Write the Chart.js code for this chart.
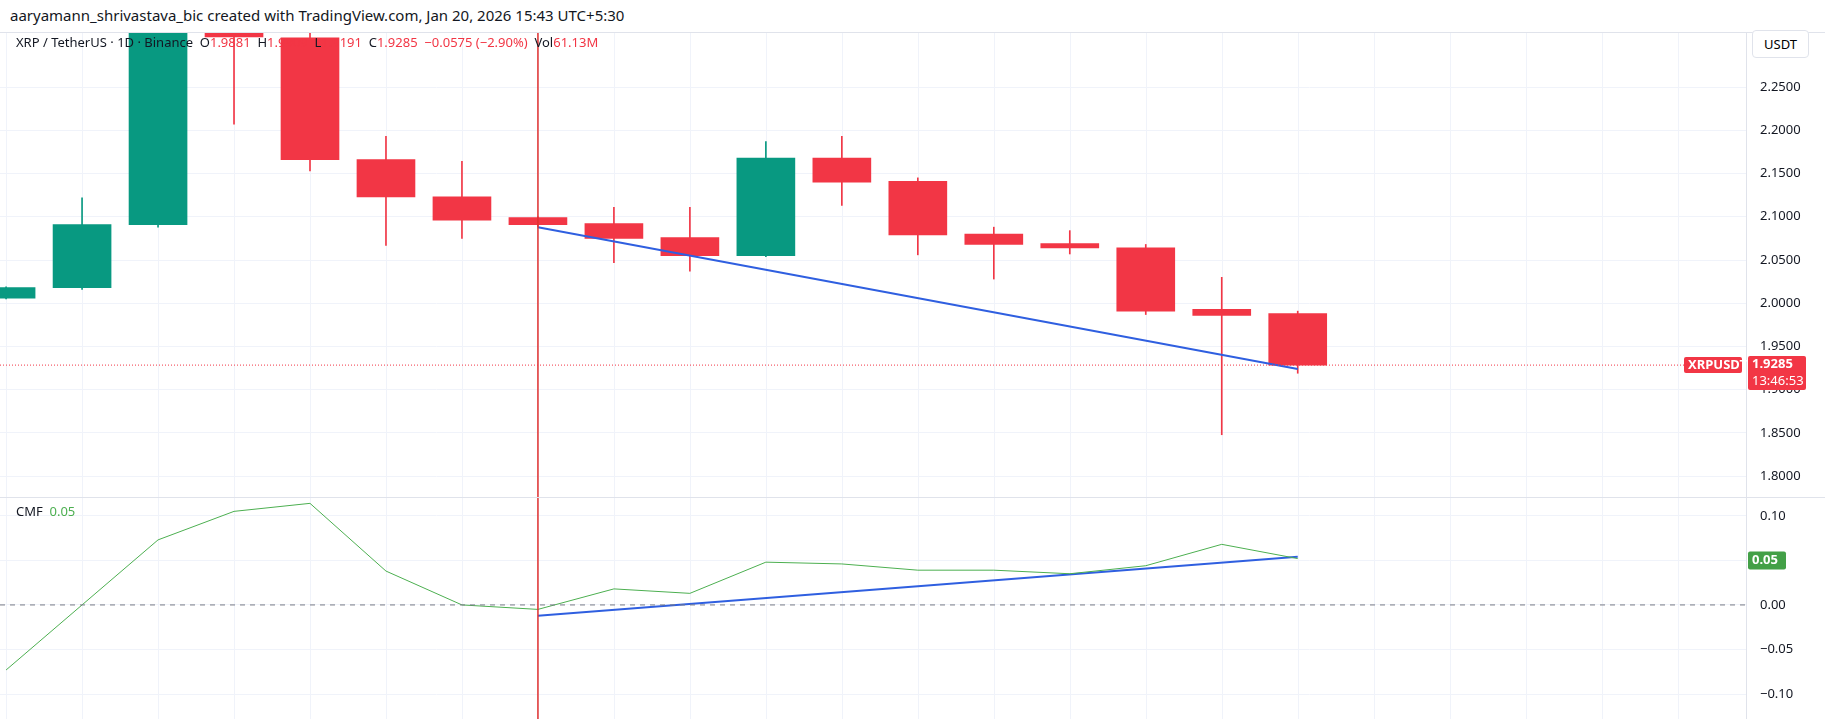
<!DOCTYPE html>
<html><head><meta charset="utf-8">
<script src="https://cdn.jsdelivr.net/npm/chart.js@4"></script>
<style>
body{margin:0;background:#fff;width:1825px;height:719px;overflow:hidden;font-family:"Noto Sans",Roboto,sans-serif;position:relative}
#hdr{position:absolute;left:0;top:0;width:1825px;height:33px;border-bottom:1px solid #e0e3eb;box-sizing:border-box}
#credit{position:absolute;left:10px;top:5px;font-size:15px;color:#131722}
#top{position:absolute;left:0;top:33px;width:1825px;height:464px}
#bot{position:absolute;left:0;top:497px;width:1825px;height:222px;border-top:1px solid #e0e3eb;box-sizing:border-box}
#legend{position:absolute;left:16px;top:33px;font-size:13px;color:#131722;z-index:3}
#legend .r{color:#f23645}
#cmfl{position:absolute;left:16px;top:502px;font-size:13px;color:#131722;z-index:3}
#usdt{position:absolute;left:1752px;top:30px;width:55px;height:26px;border:1px solid #e0e3eb;border-radius:4px;font-size:13px;line-height:26px;text-align:center;background:#fff;z-index:3}
</style></head><body>
<div id="hdr"><div id="credit">aaryamann_shrivastava_bic created with TradingView.com, Jan 20, 2026 15:43 UTC+5:30</div></div>
<div id="legend">XRP / TetherUS · 1D · Binance &nbsp;O<span class="r">1.9881</span> &nbsp;H<span class="r">1.9909</span> &nbsp;L<span class="r">1.9191</span> &nbsp;C<span class="r">1.9285 &nbsp;−0.0575 (−2.90%)</span> &nbsp;Vol<span class="r">61.13M</span></div>
<div id="cmfl">CMF &nbsp;<span style="color:#4caf50">0.05</span></div>
<div id="usdt">USDT</div>
<div id="top"><canvas id="c1"></canvas></div>
<div id="bot"><canvas id="c2"></canvas></div>
<script>
const opens  = [2.006,2.018,2.091,2.330,2.307,2.166,2.123,2.099,2.092,2.076,2.055,2.168,2.141,2.080,2.069,2.064,1.993,1.9881];
const highs  = [2.019,2.122,2.360,2.360,2.330,2.193,2.164,2.100,2.111,2.111,2.187,2.193,2.145,2.088,2.084,2.068,2.030,1.9909];
const lows   = [2.005,2.016,2.088,2.207,2.153,2.067,2.075,2.089,2.047,2.037,2.054,2.113,2.056,2.028,2.057,1.987,1.848,1.9191];
const closes = [2.018,2.091,2.330,2.308,2.166,2.123,2.096,2.091,2.075,2.055,2.168,2.140,2.079,2.068,2.064,1.991,1.986,1.9285];
const cmf    = [-0.073,0.000,0.073,0.105,0.114,0.038,0.000,-0.005,0.018,0.013,0.048,0.046,0.039,0.039,0.035,0.044,0.068,0.052];
const priceTrend = [[7,2.088],[17,1.924]];
const cmfTrend   = [[7,-0.012],[17,0.054]];
const priceTicks = [1.80,1.85,1.90,1.95,2.00,2.05,2.10,2.15,2.20,2.25];
const cmfTicks   = [-0.10,-0.05,0.00,0.05,0.10];
const lastPrice = 1.9285, lastCmf = 0.05, markIdx = 7;

const GREEN='#089981', RED='#f23645', BLUE='#2f5fe0', GRID='#f0f3fa';
const idx = opens.map((_, i) => i);
const xScale = {type:'linear',display:false,min:-0.08,max:22.9,offset:false};
function yScale(min,max,ticks,dec){
  return {position:'right',min,max,
    afterBuildTicks:s=>{s.ticks=ticks.map(v=>({value:v}));},
    afterFit:s=>{s.width=79;s.paddingTop=0;s.paddingBottom=0;},
    ticks:{color:'#131722',font:{size:13,family:'Noto Sans'},padding:14,callback:v=>v.toFixed(dec).replace('-','−')},
    grid:{color:GRID,drawTicks:false},border:{color:'#e0e3eb'}};
}
function box(ctx,x,y,w,h,bg,lines,fg){
  ctx.fillStyle=bg;ctx.beginPath();ctx.roundRect(x,y,w,h,2);ctx.fill();
  ctx.fillStyle=fg||'#fff';ctx.textBaseline='middle';ctx.textAlign='left';
  lines.forEach((t,i)=>{ctx.font=(i?'':'bold ')+'13px Noto Sans';ctx.fillText(t,x+4,y+(i+0.5)*h/lines.length);});
}
// vertical grid at each day, drawn from the x scale
const vgrid = {id:'vgrid',beforeDatasetsDraw(c){
  const {ctx,chartArea:a,scales:{x}}=c;
  ctx.save();ctx.strokeStyle=GRID;ctx.lineWidth=1;
  for(let i=0;i<=Math.floor(x.max);i++){const px=Math.round(x.getPixelForValue(i))+0.5;ctx.beginPath();ctx.moveTo(px,a.top);ctx.lineTo(px,a.bottom);ctx.stroke();}
  ctx.restore();
}};
const vline = {id:'vline',afterDatasetsDraw(c){
  const {ctx,scales:{x}}=c;const px=x.getPixelForValue(markIdx);
  ctx.save();ctx.strokeStyle='#e0302f';ctx.lineWidth=1.5;ctx.beginPath();ctx.moveTo(px,0);ctx.lineTo(px,c.height);ctx.stroke();ctx.restore();
}};
const topOverlay = {id:'topOv',afterDraw(c){
  const {ctx,chartArea:a,scales:{y}}=c;const py=y.getPixelForValue(lastPrice);
  ctx.save();ctx.strokeStyle=RED;ctx.setLineDash([1,2]);ctx.beginPath();ctx.moveTo(a.left,py);ctx.lineTo(a.right,py);ctx.stroke();ctx.setLineDash([]);
  box(ctx,a.right-62,py-8,58,16,RED,['XRPUSDT']);
  box(ctx,a.right+2,py-9,58,34,RED,[lastPrice.toFixed(4),'13:46:53']);
  ctx.restore();
}};
const botOverlay = {id:'botOv',afterDraw(c){
  const {ctx,chartArea:a,scales:{y}}=c;const py=y.getPixelForValue(0);
  ctx.save();ctx.strokeStyle='#787b86';ctx.setLineDash([5,5]);ctx.beginPath();ctx.moveTo(a.left,py);ctx.lineTo(a.right,py);ctx.stroke();ctx.setLineDash([]);
  const pc=y.getPixelForValue(lastCmf);
  box(ctx,a.right+2,pc-9,38,18,'#43a047',[lastCmf.toFixed(2)]);
  ctx.restore();
}};
const cols = idx.map(i=>closes[i]>=opens[i]?GREEN:RED);
new Chart(document.getElementById('c1'),{
  type:'bar',
  data:{datasets:[
    {data:idx.map(i=>({x:i,y:[opens[i],closes[i]]})),backgroundColor:cols,barThickness:58,grouped:false,order:1},
    {data:idx.map(i=>({x:i,y:[lows[i],highs[i]]})),backgroundColor:cols,barThickness:1,grouped:false,order:2},
    {type:'line',data:priceTrend.map(p=>({x:p[0],y:p[1]})),borderColor:BLUE,borderWidth:2,pointRadius:0,order:0}
  ]},
  options:{responsive:true,maintainAspectRatio:false,animation:false,layout:{padding:0},
    plugins:{legend:{display:false},tooltip:{enabled:false}},
    scales:{x:xScale,y:yScale(1.776,2.3125,priceTicks,4)}},
  plugins:[vgrid,vline,topOverlay]
});
new Chart(document.getElementById('c2'),{
  type:'line',
  data:{datasets:[
    {data:idx.map(i=>({x:i,y:cmf[i]})),borderColor:'#4caf50',borderWidth:1,pointRadius:0},
    {data:cmfTrend.map(p=>({x:p[0],y:p[1]})),borderColor:BLUE,borderWidth:2,pointRadius:0}
  ]},
  options:{responsive:true,maintainAspectRatio:false,animation:false,layout:{padding:0},
    plugins:{legend:{display:false},tooltip:{enabled:false}},
    scales:{x:xScale,y:yScale(-0.128,0.12,cmfTicks,2)}},
  plugins:[vgrid,vline,botOverlay]
});
</script>
</body></html>
